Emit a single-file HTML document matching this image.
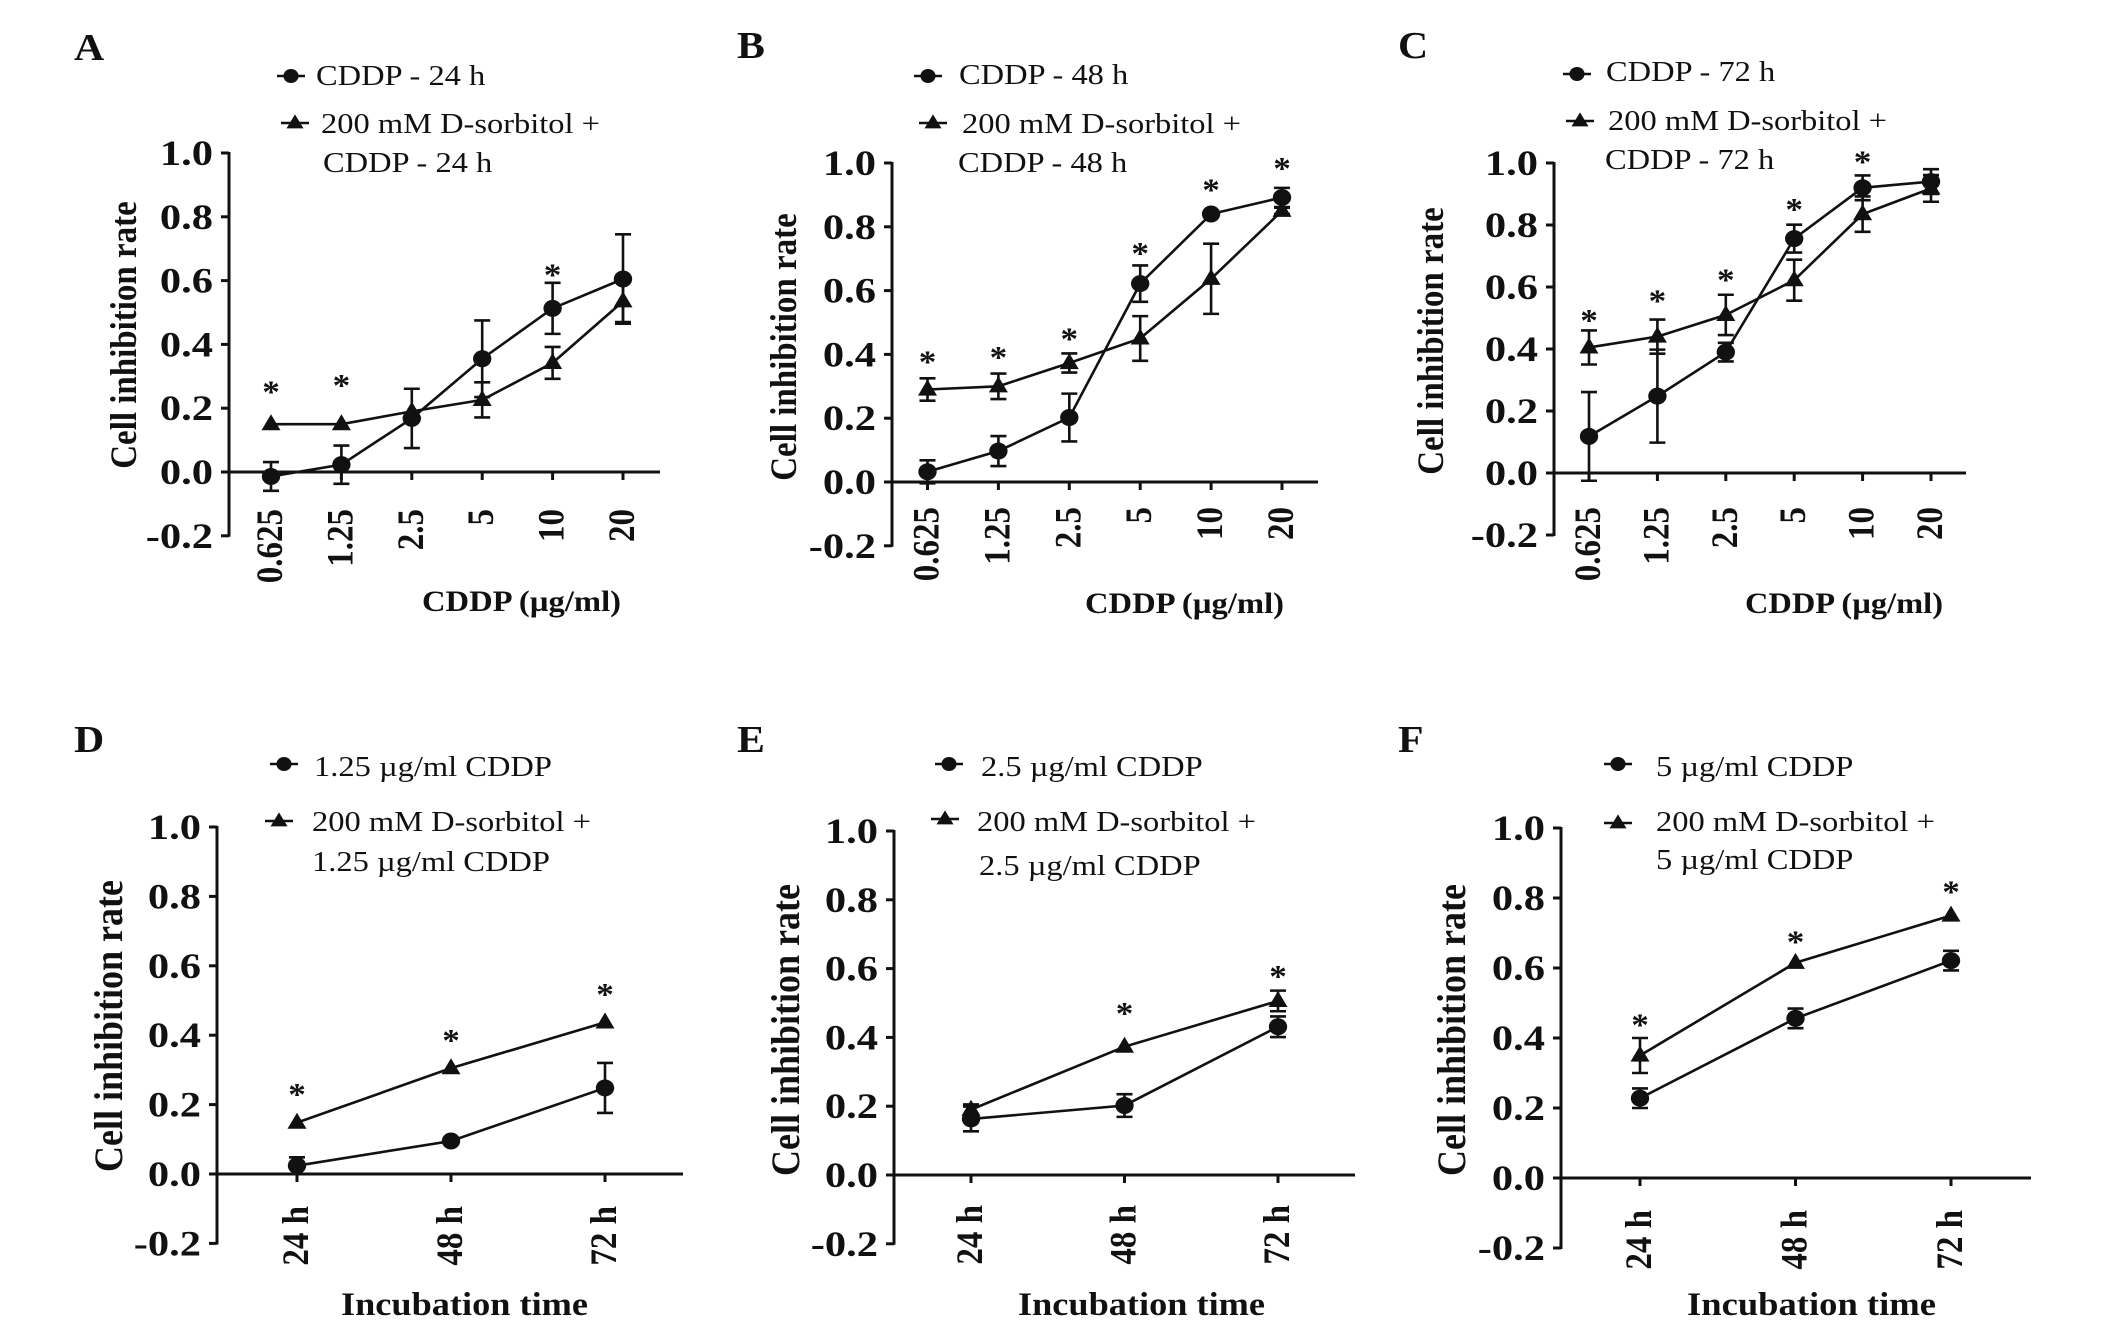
<!DOCTYPE html>
<html><head><meta charset="utf-8"><style>
html,body{margin:0;padding:0;background:#fff;}
svg{display:block;font-family:"Liberation Serif","Times New Roman",serif;}
</style></head><body>
<svg id="fig" width="2126" height="1321" viewBox="0 0 2126 1321" xmlns="http://www.w3.org/2000/svg"></svg>
<script>
// ---------- data ----------
const doseCats = ["0.625","1.25","2.5","5","10","20"];
const timeCats = ["24 h","48 h","72 h"];
const yTickVals = [-0.2,0,0.2,0.4,0.6,0.8,1.0];
const yTickLabels = ["-0.2","0.0","0.2","0.4","0.6","0.8","1.0"];

const aCddp = [-0.014,0.023,0.168,0.355,0.513,0.605];
const aCddpErr = [0.045,0.06,0.093,0.12,0.08,0.14];
const aSorb = [0.15,0.15,0.19,0.226,0.342,0.535];
const aSorbErr = [0,0,0,0.055,0.05,0.065];
const aStars = [0.265,0.285,null,null,0.631,null];

const bCddp = [0.032,0.097,0.202,0.622,0.84,0.892];
const bCddpErr = [0.036,0.047,0.075,0.057,0,0.03];
const bSorb = [0.29,0.30,0.373,0.45,0.637,0.85];
const bSorbErr = [0.035,0.04,0.03,0.07,0.11,0.01];
const bStars = [0.39,0.405,0.463,0.73,0.93,0.997];

const cCddp = [0.118,0.248,0.39,0.756,0.92,0.94];
const cCddpErr = [0.143,0.15,0.03,0.045,0.04,0.04];
const cSorb = [0.405,0.44,0.51,0.622,0.835,0.918];
const cSorbErr = [0.055,0.055,0.065,0.066,0.057,0.043];
const cStars = [0.507,0.57,0.637,0.865,1.017,null];

const dCddp = [0.024,0.095,0.248];
const dCddpErr = [0.024,0,0.072];
const dSorb = [0.148,0.305,0.437];
const dSorbErr = [0,0,0];
const dStars = [0.242,0.397,0.53];

const eCddp = [0.163,0.202,0.431];
const eCddpErr = [0.036,0.033,0.03];
const eSorb = [0.19,0.373,0.506];
const eSorbErr = [0.015,0,0.03];
const eStars = [null,0.483,0.59];

const fCddp = [0.228,0.456,0.621];
const fCddpErr = [0.028,0.028,0.028];
const fSorb = [0.35,0.615,0.75];
const fSorbErr = [0.05,0,0];
const fStars = [0.45,0.687,0.83];

const legendA = ["CDDP - 24 h","200 mM D-sorbitol +","CDDP - 24 h"];
const legendB = ["CDDP - 48 h","200 mM D-sorbitol +","CDDP - 48 h"];
const legendC = ["CDDP - 72 h","200 mM D-sorbitol +","CDDP - 72 h"];
const legendD = ["1.25 \u00b5g/ml CDDP","200 mM D-sorbitol +","1.25 \u00b5g/ml CDDP"];
const legendE = ["2.5 \u00b5g/ml CDDP","200 mM D-sorbitol +","2.5 \u00b5g/ml CDDP"];
const legendF = ["5 \u00b5g/ml CDDP","200 mM D-sorbitol +","5 \u00b5g/ml CDDP"];

// ---------- layout (pixel geometry, not data) ----------
const panels = [
 {id:"a",letter:"A",cats:doseCats,c:aCddp,ce:aCddpErr,t:aSorb,te:aSorbErr,st:aStars,leg:legendA,xt:"CDDP (\u00b5g/ml)",
  ax:229,y1:153,y0:472,xEnd:660,x0:271,xN:623,lx:74,ly:59,
  m1:[291,76],t1:[316,85],m2:[295,123],t2:[321,133],t3:[323,172],
  ycx:125,ycy:335,yfs:33,xtx:422,xty:611,xtw:199,tickTop:509},
 {id:"b",letter:"B",cats:doseCats,c:bCddp,ce:bCddpErr,t:bSorb,te:bSorbErr,st:bStars,leg:legendB,xt:"CDDP (\u00b5g/ml)",
  ax:892,y1:163,y0:482,xEnd:1318,x0:927.5,xN:1282,lx:737,ly:57,
  m1:[928,76],t1:[959,84],m2:[933,123],t2:[962,133],t3:[958,172],
  ycx:785,ycy:347,yfs:33,xtx:1085,xty:613,xtw:199,tickTop:507},
 {id:"c",letter:"C",cats:doseCats,c:cCddp,ce:cCddpErr,t:cSorb,te:cSorbErr,st:cStars,leg:legendC,xt:"CDDP (\u00b5g/ml)",
  ax:1554,y1:163,y0:473,xEnd:1966,x0:1589,xN:1931,lx:1398,ly:57,
  m1:[1577,74],t1:[1606,81],m2:[1580,121],t2:[1608,130],t3:[1605,169],
  ycx:1432,ycy:341,yfs:33,xtx:1745,xty:613,xtw:198,tickTop:507},
 {id:"d",letter:"D",cats:timeCats,c:dCddp,ce:dCddpErr,t:dSorb,te:dSorbErr,st:dStars,leg:legendD,xt:"Incubation time",
  ax:217,y1:827,y0:1174,xEnd:683,x0:297,xN:605,lx:74,ly:751,
  m1:[284,764],t1:[314,776],m2:[279,821],t2:[312,831],t3:[312,871],
  ycx:111,ycy:1026,yfs:36,xtx:341,xty:1315,xtw:247,tickTop:1206},
 {id:"e",letter:"E",cats:timeCats,c:eCddp,ce:eCddpErr,t:eSorb,te:eSorbErr,st:eStars,leg:legendE,xt:"Incubation time",
  ax:894,y1:831,y0:1175,xEnd:1355,x0:971,xN:1278,lx:737,ly:751,
  m1:[949,764],t1:[981,776],m2:[945,819],t2:[977,831],t3:[979,875],
  ycx:788,ycy:1030,yfs:36,xtx:1018,xty:1315,xtw:247,tickTop:1205},
 {id:"f",letter:"F",cats:timeCats,c:fCddp,ce:fCddpErr,t:fSorb,te:fSorbErr,st:fStars,leg:legendF,xt:"Incubation time",
  ax:1561,y1:828,y0:1178,xEnd:2031,x0:1640,xN:1951,lx:1398,ly:751,
  m1:[1618,764],t1:[1656,776],m2:[1618,823],t2:[1656,831],t3:[1656,869],
  ycx:1454,ycy:1030,yfs:36,xtx:1687,xty:1315,xtw:249,tickTop:1210}
];

const NS = "http://www.w3.org/2000/svg";
const svg = document.getElementById("fig");
const INK = "#111";

function el(parent, tag, attrs){
  const e = document.createElementNS(NS, tag);
  for (const k in attrs) e.setAttribute(k, attrs[k]);
  parent.appendChild(e);
  return e;
}
function hText(parent, x, y, str, size, weight, anchor, sx, name){
  const t = el(parent, "text", {transform:`translate(${x},${y}) scale(${sx},1)`, "font-size":size, "font-weight":weight, "text-anchor":anchor, fill:INK});
  t.textContent = str;
  
  
  return t;
}
function circle(parent, x, y, r, name){
  const c = el(parent, "ellipse", {cx:x, cy:y, rx:r*1.08, ry:r, fill:INK});
  
  
  return c;
}
function tri(parent, x, y, w, h, name){
  const p = el(parent, "polygon", {points:`${x},${y-h*0.62} ${x+w/2},${y+h*0.38} ${x-w/2},${y+h*0.38}`, fill:INK});
  
  
  return p;
}

panels.forEach(P => {
  const g = el(svg, "g", {});
  
  
  const n = P.cats.length;
  const xs = i => P.x0 + i * (P.xN - P.x0) / (n - 1);
  const ys = v => P.y0 - v * (P.y0 - P.y1);

  hText(g, P.lx, P.ly+1, P.letter, 38, "bold", "start", 1.1, 'panel-label-' + P.id);

  const yAxis = el(g, "line", {x1:P.ax, y1:ys(1.0)-1, x2:P.ax, y2:ys(-0.2)+1, stroke:INK, "stroke-width":3});
  
  
  const xAxis = el(g, "line", {x1:P.ax, y1:ys(0), x2:P.xEnd, y2:ys(0), stroke:INK, "stroke-width":3});
  
  

  yTickVals.forEach((v, k) => {
    const tk = el(g, "line", {x1:P.ax-8, y1:ys(v), x2:P.ax, y2:ys(v), stroke:INK, "stroke-width":3});
    
    
    hText(g, P.ax-16, ys(v)+12, yTickLabels[k], 36, "bold", "end", 1.18, 'y-tick-label-' + P.id);
  });

  P.cats.forEach((c, i) => {
    const tk = el(g, "line", {x1:xs(i), y1:ys(0), x2:xs(i), y2:ys(0)+8, stroke:INK, "stroke-width":3});
    
    
    const t = el(g, "text", {transform:`translate(${xs(i)+11},${P.tickTop}) rotate(-90) scale(1,1.12)`, "font-size":33, "font-weight":"bold", "text-anchor":"end", fill:INK});
    t.textContent = c;
    
    
  });

  const yt = el(g, "text", {transform:`translate(${P.ycx+11},${P.ycy}) rotate(-90) scale(1,1.12)`, "font-size":P.yfs, "font-weight":"bold", "text-anchor":"middle", fill:INK});
  yt.textContent = "Cell inhibition rate";
  
  
  const xt = hText(g, P.xtx, P.xty, P.xt, P.id < "d" ? 30 : 33, "bold", "start", 1, 'x-axis-title-' + P.id);
  xt.setAttribute("textLength", P.xtw);
  xt.setAttribute("lengthAdjust", "spacingAndGlyphs");

  const pathOf = arr => arr.map((v, i) => (i ? "L" : "M") + xs(i) + "," + ys(v)).join(" ");
  const lc = el(g, "path", {d:pathOf(P.c), fill:"none", stroke:INK, "stroke-width":2.6});
  
  
  const lt = el(g, "path", {d:pathOf(P.t), fill:"none", stroke:INK, "stroke-width":2.6});
  
  

  const errBar = (v, e, i, name) => {
    if (!e) return;
    const x = xs(i);
    const d = `M${x},${ys(v+e)} L${x},${ys(v-e)} M${x-8},${ys(v+e)} L${x+8},${ys(v+e)} M${x-8},${ys(v-e)} L${x+8},${ys(v-e)}`;
    const eb = el(g, "path", {d:d, fill:"none", stroke:INK, "stroke-width":2.6});
    
    
  };
  P.c.forEach((v, i) => errBar(v, P.ce[i], i, 'cddp-error-bar-' + P.id));
  P.t.forEach((v, i) => errBar(v, P.te[i], i, 'sorbitol-error-bar-' + P.id));

  P.c.forEach((v, i) => circle(g, xs(i), ys(v), 8.5, 'cddp-point-' + P.id));
  P.t.forEach((v, i) => tri(g, xs(i), ys(v), 19, 16, 'sorbitol-point-' + P.id));

  P.st.forEach((v, i) => {
    if (v === null) return;
    hText(g, xs(i), ys(v)+15, "*", 32, "bold", "middle", 1.1, 'significance-star-' + P.id);
  });

  const l1 = el(g, "line", {x1:P.m1[0]-14, y1:P.m1[1], x2:P.m1[0]+14, y2:P.m1[1], stroke:INK, "stroke-width":2.6});
  
  
  circle(g, P.m1[0], P.m1[1], 7, 'legend-marker-cddp-' + P.id);
  hText(g, P.t1[0], P.t1[1], P.leg[0], 28, "normal", "start", 1.16, 'legend-entry-cddp-' + P.id);
  const l2 = el(g, "line", {x1:P.m2[0]-14, y1:P.m2[1], x2:P.m2[0]+14, y2:P.m2[1], stroke:INK, "stroke-width":2.6});
  
  
  tri(g, P.m2[0], P.m2[1], 17, 14, 'legend-marker-sorbitol-' + P.id);
  hText(g, P.t2[0], P.t2[1], P.leg[1], 28, "normal", "start", 1.16, 'legend-entry-sorbitol-' + P.id);
  hText(g, P.t3[0], P.t3[1], P.leg[2], 28, "normal", "start", 1.16, 'legend-entry-sorbitol-line2-' + P.id);
});
</script>
</body></html>
